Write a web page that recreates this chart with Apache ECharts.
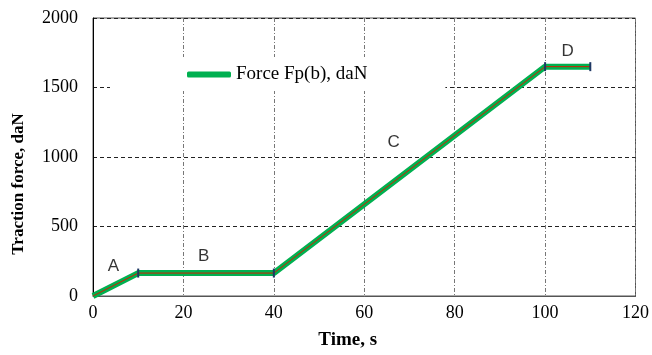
<!DOCTYPE html>
<html>
<head>
<meta charset="utf-8">
<script src="https://cdn.jsdelivr.net/npm/echarts@6/dist/echarts.min.js"></script>
<style>
  html, body { margin: 0; padding: 0; background: #fff; }
  #chart { width: 652px; height: 355px; }
</style>
</head>
<body>
<div id="chart"></div>
<script>
// stage break points of the traction force profile
const time = [0, 10, 40, 100, 110];
const force = [0, 165, 165, 1650, 1650];

// stage letters and where they sit (x in s, y in daN)
const stageNames = ["A", "B", "C", "D"];
const stageX = [4.5, 24.5, 66.5, 105];
const stageY = [210, 285, 1105, 1760];

const xTicks = { min: 0, max: 120, interval: 20 };
const yTicks = { min: 0, max: 2000, interval: 500 };

const serif = "'Liberation Serif', 'Times New Roman', serif";

const chart = echarts.init(document.getElementById("chart"));

const lineData = time.map((t, i) => [t, force[i]]);
const labelData = stageNames.map((n, i) => ({ value: [stageX[i], stageY[i]], name: n }));

chart.setOption({
    animation: false,
    backgroundColor: "#fff",
    grid: {
        left: 93, right: 16, top: 18, bottom: 58,
        show: true,
        borderColor: "#555",
        borderWidth: 1,
    },
    legend: {
        left: 110,
        top: 57,
        padding: [8, 78, 7, 77],
        backgroundColor: "#fff",
        itemWidth: 44,
        itemHeight: 6,
        itemGap: 2,
        data: [{ name: "Force Fp(b), daN", icon: "roundRect" }],
        textStyle: { fontFamily: serif, fontSize: 19, color: "#000" },
        z: 10,
    },
    xAxis: {
        type: "value",
        min: xTicks.min, max: xTicks.max, interval: xTicks.interval,
        name: "Time, s",
        nameLocation: "middle",
        nameGap: 35,
        nameTextStyle: {
            fontFamily: serif, fontSize: 19, fontWeight: "bold", color: "#000",
            padding: [0, 33, 0, 0],
        },
        axisLine: { lineStyle: { color: "#555" } },
        axisTick: { show: false },
        axisLabel: { fontFamily: serif, fontSize: 18, color: "#000", margin: 8 },
        splitLine: { lineStyle: { color: "#777", type: [4, 2, 1, 2], width: 1 } },
    },
    yAxis: {
        type: "value",
        min: yTicks.min, max: yTicks.max, interval: yTicks.interval,
        name: "Traction force, daN",
        nameLocation: "middle",
        nameGap: 66,
        nameTextStyle: {
            fontFamily: serif, fontSize: 17, fontWeight: "bold", color: "#000",
            padding: [0, 54, 0, 0],
        },
        axisLine: { show: true, lineStyle: { color: "#000" } },
        axisTick: { show: false },
        axisLabel: {
            fontFamily: serif, fontSize: 18, color: "#000", margin: 15,
            formatter: (v) => String(v),
        },
        splitLine: { lineStyle: { color: "#222", type: [4, 3], width: 1 } },
    },
    series: [
        {
            name: "Force Fp(b), daN",
            type: "line",
            data: lineData,
            color: "#00b050",
            lineStyle: { width: 6, color: "#00b050" },
            symbol: "none",
            z: 3,
        },
        {
            name: "inner",
            type: "line",
            data: lineData,
            lineStyle: { width: 1, color: "#d02000" },
            symbol: (v) => (v[0] === 0 ? "none" : "rect"),
            symbolSize: [2, 9],
            itemStyle: { color: "#1f3864" },
            z: 4,
        },
        {
            name: "stages",
            type: "scatter",
            data: labelData,
            symbolSize: 0,
            label: {
                show: true,
                position: "inside",
                formatter: (p) => p.name,
                fontFamily: "'Liberation Sans', 'Open Sans', sans-serif",
                fontSize: 17,
                color: "#000",
            },
            z: 5,
        },
    ],
});
</script>
</body>
</html>
